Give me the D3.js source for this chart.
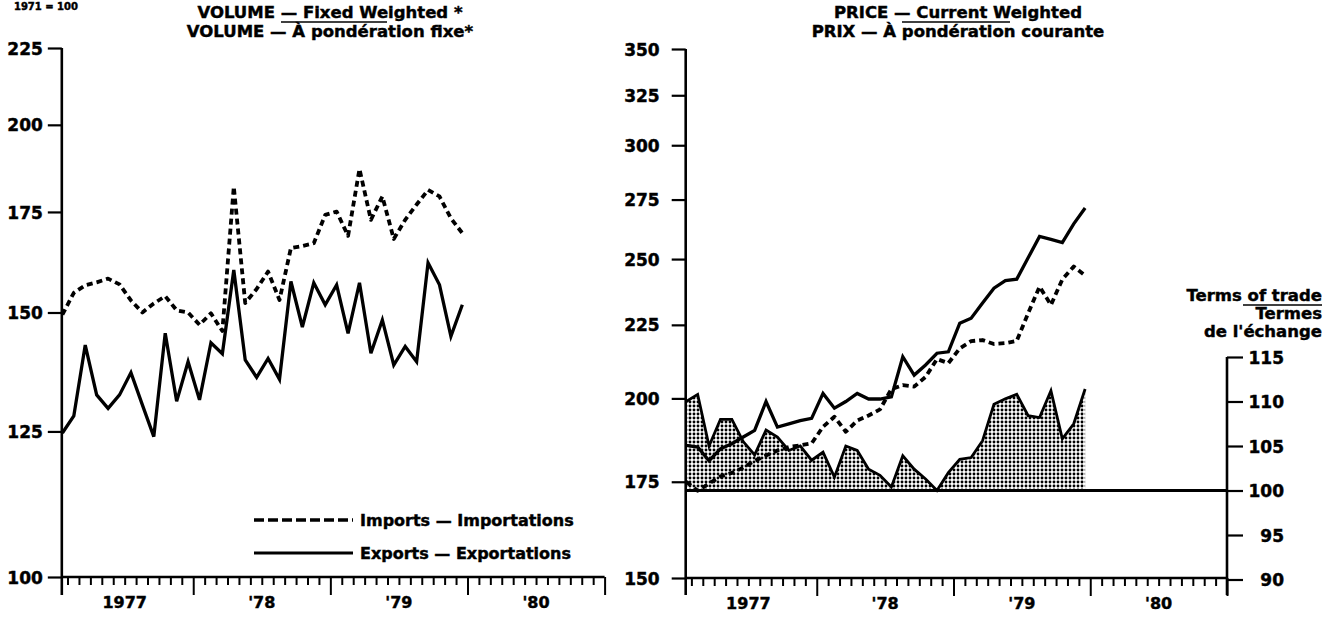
<!DOCTYPE html>
<html><head><meta charset="utf-8">
<script src="https://cdn.jsdelivr.net/npm/d3@7"></script>
<style>
body{margin:0;background:#fff;}
svg text{font-family:"DejaVu Sans",sans-serif;font-weight:bold;fill:#000;stroke:#000;stroke-width:0.45px;}
</style></head><body>
<svg id="c" width="1340" height="617"></svg>
<script>
// Monthly data, Jan 1977 .. Dec 1979
const yearLabels = ["1977", "'78", "'79", "'80"];
const volImports = [149.5,154.6,156.4,157.1,158.0,156.6,152.8,150.0,152.1,153.8,150.5,150.0,147.2,149.8,145.8,181.9,152.2,155.5,159.7,152.9,165.6,166.1,166.8,174.2,175.1,168.7,186.9,172.9,179.2,167.9,172.9,177.0,181.0,179.2,173.3,169.4];
const volExports = [124.7,128.0,142.7,132.2,129.5,132.2,136.8,130.2,124.0,145.3,130.9,139.1,131.2,143.2,140.8,160.1,139.5,135.8,139.8,135.4,157.3,146.7,157.0,151.8,156.5,145.3,157.0,140.9,148.3,138.4,142.4,139.1,161.9,156.5,144.6,151.8];
const priceImports = [175.0,172.5,174.5,176.5,177.5,179.0,181.0,182.5,184.0,185.0,185.5,186.1,191.1,194.2,189.6,193.0,194.6,196.5,203.0,204.3,203.8,207.0,213.0,211.6,216.7,219.2,219.6,218.2,218.5,219.3,229.2,239.2,232.3,242.0,247.0,243.5];
const priceExports = [185.5,185.0,181.0,184.5,186.0,188.0,190.0,199.0,191.0,192.0,193.0,193.7,201.6,196.9,199.0,201.6,199.8,199.8,200.5,213.8,207.6,211.0,215.0,215.5,225.6,227.4,233.0,238.6,241.5,242.1,250.5,259.2,258.0,256.7,264.5,271.3];
const termsOfTrade = [110.0,110.8,105.0,108.0,108.0,105.5,104.0,106.8,106.0,104.5,105.0,103.4,104.3,101.5,105.0,104.5,102.4,101.7,100.4,103.9,102.4,101.3,100.0,102.0,103.5,103.7,105.6,109.7,110.3,110.8,108.4,108.2,111.2,105.8,107.5,111.4];
const volTicks = [100,125,150,175,200,225];
const priceTicks = [150,175,200,225,250,275,300,325,350];
const totTicks = [90,95,100,105,110,115];
const legendItems = [{label:"Imports — Importations", dash:true},{label:"Exports — Exportations", dash:false}];

const svg = d3.select("#c");
const defs = svg.append("defs");
const pat = defs.append("pattern").attr("id","dots").attr("width",4).attr("height",4).attr("patternUnits","userSpaceOnUse");
pat.append("rect").attr("width",4).attr("height",4).attr("fill","#fff");
pat.append("circle").attr("cx",2).attr("cy",2).attr("r",1.45).attr("fill","#000");

const AX = 2.6;
const OFF = 0.55;
const TFS = 17;

function styleTicks(sel) {
  sel.selectAll(".tick line").attr("stroke","#000").attr("stroke-width",2.2);
  sel.selectAll(".tick text").attr("font-size",TFS).attr("font-family","DejaVu Sans")
    .attr("font-weight","bold").attr("dy","0.36em");
}

function xAxis(g, x, y) {
  const ticks = d3.range(1,49);
  g.append("line").attr("x1",x(0.5)).attr("x2",x(48)).attr("y1",y).attr("y2",y)
    .attr("stroke","#000").attr("stroke-width",AX);
  const ax = d3.axisBottom(x).tickValues(ticks).tickFormat("").tickSizeOuter(0);
  const gg = g.append("g").attr("transform",`translate(0,${y})`).call(ax);
  gg.select(".domain").remove();
  gg.selectAll(".tick line").attr("stroke","#000").attr("stroke-width",2)
    .attr("y2", d => d % 12 === 0 ? 18 : 8);
  g.selectAll("text.yr").data(yearLabels).join("text").attr("class","yr")
    .attr("x",(d,i)=>x(6+12*i)).attr("y",y+31).attr("text-anchor","middle")
    .attr("font-size",16).text(d=>d);
}

// ---------------- LEFT PANEL ----------------
const xL = d3.scaleLinear().domain([0,48]).range([56.1,604.6]);
const yL = d3.scaleLog().domain([100,225]).range([577,48]);
const gL = svg.append("g");
xAxis(gL, xL, 577);
gL.append("line").attr("x1",xL(0.5)).attr("x2",xL(0.5)).attr("y1",yL(225)).attr("y2",595)
  .attr("stroke","#000").attr("stroke-width",AX);
const ayL = gL.append("g").attr("transform",`translate(${xL(0.5)},0)`)
  .call(d3.axisLeft(yL).tickValues(volTicks).tickFormat(d3.format("d")).tickSize(14).tickPadding(5).tickSizeOuter(0));
ayL.select(".domain").remove();
styleTicks(ayL);

const lineL = d3.line().x((d,i)=>xL(i+OFF)).y(d=>yL(d));
gL.append("path").datum(volImports).attr("d",lineL).attr("fill","none").attr("stroke","#000")
  .attr("stroke-width",3.8).attr("stroke-dasharray","6,4").attr("stroke-linejoin","round");
gL.append("path").datum(volExports).attr("d",lineL).attr("fill","none").attr("stroke","#000")
  .attr("stroke-width",3.3).attr("stroke-linejoin","miter");

// titles
function title(g, cx, l1, l2, ux1, ux2, fs) {
  g.append("text").attr("x",cx).attr("y",18).attr("text-anchor","middle").attr("font-size",fs).text(l1);
  g.append("text").attr("x",cx).attr("y",37).attr("text-anchor","middle").attr("font-size",fs).text(l2);
  g.append("line").attr("x1",ux1).attr("x2",ux2).attr("y1",22).attr("y2",22).attr("stroke","#000").attr("stroke-width",1.6);
}
title(gL, 330, "VOLUME — Fixed Weighted *", "VOLUME — À pondération fixe*", 281, 387, 16.5);
svg.append("text").attr("x",78).attr("y",10).attr("text-anchor","end").attr("font-size",10).text("1971 = 100");

// legend
const lg = gL.append("g");
legendItems.forEach((it,i)=>{
  const y = 520 + i*33;
  lg.append("line").attr("x1",254).attr("x2",353).attr("y1",y).attr("y2",y).attr("stroke","#000")
    .attr("stroke-width", it.dash?3.6:3.2).attr("stroke-dasharray", it.dash?"10,4":null);
  lg.append("text").attr("x",360).attr("y",y+6).attr("font-size",16).text(it.label);
});

// ---------------- RIGHT PANEL ----------------
const xR = d3.scaleLinear().domain([0,48]).range([680,1227]);
const yR = d3.scaleLog().domain([150,350]).range([578,49]);
const yT = d3.scaleLinear().domain([90,115]).range([579.5,357]);
const gR = svg.append("g");

const area = d3.area().x((d,i)=>xR(i+OFF)).y0(yT(100)).y1(d=>yT(d));
gR.append("path").datum(termsOfTrade).attr("d",area).attr("fill","url(#dots)");
const lineT = d3.line().x((d,i)=>xR(i+OFF)).y(d=>yT(d));
gR.append("path").datum(termsOfTrade).attr("d",lineT).attr("fill","none").attr("stroke","#000").attr("stroke-width",2.8);
gR.append("line").attr("x1",xR(0.5)).attr("x2",xR(48)).attr("y1",yT(100)).attr("y2",yT(100))
  .attr("stroke","#000").attr("stroke-width",3);

xAxis(gR, xR, 578);
gR.append("line").attr("x1",xR(0.5)).attr("x2",xR(0.5)).attr("y1",yR(350)).attr("y2",595)
  .attr("stroke","#000").attr("stroke-width",AX);
const ayR = gR.append("g").attr("transform",`translate(${xR(0.5)},0)`)
  .call(d3.axisLeft(yR).tickValues(priceTicks).tickFormat(d3.format("d")).tickSize(14).tickPadding(12).tickSizeOuter(0));
ayR.select(".domain").remove();
styleTicks(ayR);

// terms-of-trade axis
gR.append("line").attr("x1",xR(48)).attr("x2",xR(48)).attr("y1",yT(115)).attr("y2",595)
  .attr("stroke","#000").attr("stroke-width",AX);
const ayT = gR.append("g").attr("transform",`translate(${xR(48)},0)`)
  .call(d3.axisRight(yT).tickValues(totTicks).tickFormat(d3.format("d")).tickSize(16).tickSizeOuter(0));
ayT.select(".domain").remove();
styleTicks(ayT);
ayT.selectAll(".tick text").attr("text-anchor","end").attr("x",57);

const lineR = d3.line().x((d,i)=>xR(i+OFF)).y(d=>yR(d));
gR.append("path").datum(priceImports).attr("d",lineR).attr("fill","none").attr("stroke","#000")
  .attr("stroke-width",3.8).attr("stroke-dasharray","6,4").attr("stroke-linejoin","round");
gR.append("path").datum(priceExports).attr("d",lineR).attr("fill","none").attr("stroke","#000")
  .attr("stroke-width",3.3);

title(gR, 958, "PRICE — Current Weighted", "PRIX — À pondération courante", 902, 1010, 16.5);

const tt = gR.append("g");
tt.append("text").attr("x",1322).attr("y",301).attr("text-anchor","end").attr("font-size",16.5).text("Terms of trade");
tt.append("line").attr("x1",1243).attr("x2",1322).attr("y1",305).attr("y2",305).attr("stroke","#000").attr("stroke-width",1.6);
tt.append("text").attr("x",1322).attr("y",319).attr("text-anchor","end").attr("font-size",16.5).text("Termes");
tt.append("text").attr("x",1322).attr("y",337).attr("text-anchor","end").attr("font-size",16.5).text("de l'échange");
</script>
</body></html>
